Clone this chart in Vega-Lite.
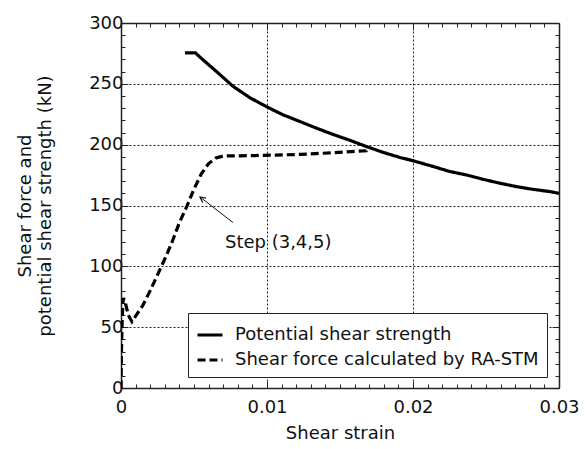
{
  "$schema": "https://vega.github.io/schema/vega-lite/v6.json",
  "width": 438,
  "height": 365,
  "autosize": "none",
  "padding": {"left": 121, "top": 23, "right": 26, "bottom": 61},
  "background": "white",
  "config": {"font": "DejaVu Sans", "view": {"stroke": null}},
  "datasets": {
    "curves": [
      {"strain": 0.00438, "force": 275.5, "series": "Potential shear strength"},
      {"strain": 0.0051, "force": 275.5, "series": "Potential shear strength"},
      {"strain": 0.0054, "force": 272, "series": "Potential shear strength"},
      {"strain": 0.00655, "force": 260, "series": "Potential shear strength"},
      {"strain": 0.00767, "force": 248, "series": "Potential shear strength"},
      {"strain": 0.00884, "force": 238.5, "series": "Potential shear strength"},
      {"strain": 0.01, "force": 231, "series": "Potential shear strength"},
      {"strain": 0.0111, "force": 224.5, "series": "Potential shear strength"},
      {"strain": 0.01226, "force": 219, "series": "Potential shear strength"},
      {"strain": 0.0134, "force": 213.5, "series": "Potential shear strength"},
      {"strain": 0.0145, "force": 208.5, "series": "Potential shear strength"},
      {"strain": 0.0157, "force": 203.5, "series": "Potential shear strength"},
      {"strain": 0.0168, "force": 198.5, "series": "Potential shear strength"},
      {"strain": 0.018, "force": 193.5, "series": "Potential shear strength"},
      {"strain": 0.0191, "force": 189.5, "series": "Potential shear strength"},
      {"strain": 0.02, "force": 186.8, "series": "Potential shear strength"},
      {"strain": 0.0214, "force": 182, "series": "Potential shear strength"},
      {"strain": 0.0225, "force": 178, "series": "Potential shear strength"},
      {"strain": 0.0237, "force": 175, "series": "Potential shear strength"},
      {"strain": 0.0248, "force": 171.5, "series": "Potential shear strength"},
      {"strain": 0.026, "force": 168.2, "series": "Potential shear strength"},
      {"strain": 0.0271, "force": 165.5, "series": "Potential shear strength"},
      {"strain": 0.0282, "force": 163.3, "series": "Potential shear strength"},
      {"strain": 0.0294, "force": 161.4, "series": "Potential shear strength"},
      {"strain": 0.03, "force": 160, "series": "Potential shear strength"},
      {"strain": 0, "force": 0, "series": "Shear force calculated by RA-STM"},
      {"strain": 0.00003, "force": 30, "series": "Shear force calculated by RA-STM"},
      {"strain": 0.00008, "force": 55, "series": "Shear force calculated by RA-STM"},
      {"strain": 0.00013, "force": 70, "series": "Shear force calculated by RA-STM"},
      {"strain": 0.00018, "force": 74, "series": "Shear force calculated by RA-STM"},
      {"strain": 0.0003, "force": 70, "series": "Shear force calculated by RA-STM"},
      {"strain": 0.0005, "force": 60, "series": "Shear force calculated by RA-STM"},
      {"strain": 0.00075, "force": 54.5, "series": "Shear force calculated by RA-STM"},
      {"strain": 0.001, "force": 59, "series": "Shear force calculated by RA-STM"},
      {"strain": 0.0015, "force": 68, "series": "Shear force calculated by RA-STM"},
      {"strain": 0.002, "force": 80, "series": "Shear force calculated by RA-STM"},
      {"strain": 0.0025, "force": 93, "series": "Shear force calculated by RA-STM"},
      {"strain": 0.003, "force": 106, "series": "Shear force calculated by RA-STM"},
      {"strain": 0.0035, "force": 120, "series": "Shear force calculated by RA-STM"},
      {"strain": 0.004, "force": 136, "series": "Shear force calculated by RA-STM"},
      {"strain": 0.0045, "force": 149, "series": "Shear force calculated by RA-STM"},
      {"strain": 0.005, "force": 163.5, "series": "Shear force calculated by RA-STM"},
      {"strain": 0.0055, "force": 176, "series": "Shear force calculated by RA-STM"},
      {"strain": 0.006, "force": 184.5, "series": "Shear force calculated by RA-STM"},
      {"strain": 0.0065, "force": 189, "series": "Shear force calculated by RA-STM"},
      {"strain": 0.007, "force": 190.7, "series": "Shear force calculated by RA-STM"},
      {"strain": 0.009, "force": 191, "series": "Shear force calculated by RA-STM"},
      {"strain": 0.0123, "force": 192, "series": "Shear force calculated by RA-STM"},
      {"strain": 0.0145, "force": 193.4, "series": "Shear force calculated by RA-STM"},
      {"strain": 0.0168, "force": 195, "series": "Shear force calculated by RA-STM"},
      {"strain": 0.0169, "force": 198, "series": "Shear force calculated by RA-STM"}
    ],
    "arrow": [
      {"x": 0.00767, "y": 136, "x2": 0.00541, "y2": 157}
    ],
    "note": [
      {"x": 0.00712, "y": 119, "text": "Step (3,4,5)"}
    ]
  },
  "resolve": {"axis": {"x": "independent", "y": "independent"}},
  "layer": [
    {
      "data": {"name": "curves"},
      "mark": {"type": "line", "strokeWidth": 3.2, "clip": true},
      "encoding": {
        "x": {
          "field": "strain", "type": "quantitative",
          "scale": {"domain": [0, 0.03], "nice": false, "zero": false},
          "axis": {
            "orient": "bottom",
            "values": [0, 0.001, 0.002, 0.003, 0.004, 0.005, 0.006, 0.007, 0.008, 0.009, 0.01, 0.011, 0.012, 0.013, 0.014, 0.015, 0.016, 0.017, 0.018, 0.019, 0.02, 0.021, 0.022, 0.023, 0.024, 0.025, 0.026, 0.027, 0.028, 0.029, 0.03],
            "format": "~g",
            "labelExpr": "abs(datum.value*100 - round(datum.value*100)) < 0.000001 ? datum.label : ''",
            "tickSize": {"condition": {"test": "abs(datum.value*100 - round(datum.value*100)) < 0.000001", "value": -7}, "value": -4},
            "grid": true,
            "gridOpacity": {"condition": {"test": "abs(datum.value*100 - round(datum.value*100)) < 0.000001 && datum.value > 0.001 && datum.value < 0.029", "value": 1}, "value": 0},
            "gridDash": [2, 2],
            "gridColor": "#222",
            "gridWidth": 1,
            "domainColor": "#222",
            "domainWidth": 1.5,
            "tickColor": "#222",
            "tickWidth": 1,
            "labelFontSize": 18,
            "labelColor": "#111",
            "labelPadding": 17,
            "labelFlush": false,
            "labelOverlap": false,
            "title": "Shear strain",
            "titleFontSize": 18,
            "titleFontWeight": "normal",
            "titleColor": "#111",
            "titlePadding": 5
          }
        },
        "y": {
          "field": "force", "type": "quantitative",
          "scale": {"domain": [0, 300], "nice": false, "zero": false},
          "axis": {
            "orient": "left",
            "values": [0, 10, 20, 30, 40, 50, 60, 70, 80, 90, 100, 110, 120, 130, 140, 150, 160, 170, 180, 190, 200, 210, 220, 230, 240, 250, 260, 270, 280, 290, 300],
            "labelExpr": "datum.value % 50 === 0 ? datum.label : ''",
            "tickSize": {"condition": {"test": "datum.value % 50 === 0", "value": -7}, "value": -4},
            "grid": true,
            "gridOpacity": {"condition": {"test": "datum.value % 50 === 0 && datum.value > 0 && datum.value < 300", "value": 1}, "value": 0},
            "gridDash": [2, 2],
            "gridColor": "#222",
            "gridWidth": 1,
            "domainColor": "#222",
            "domainWidth": 1.5,
            "tickColor": "#222",
            "tickWidth": 1,
            "labelFontSize": 18,
            "labelColor": "#111",
            "labelPadding": 5,
            "labelFlush": false,
            "labelOverlap": false,
            "title": ["Shear force and", "potential shear strength (kN)"],
            "titleFontSize": 18,
            "titleFontWeight": "normal",
            "titleColor": "#111",
            "titleLineHeight": 20,
            "titlePadding": 34
          }
        },
        "color": {
          "field": "series", "type": "nominal",
          "scale": {"domain": ["Potential shear strength", "Shear force calculated by RA-STM"], "range": ["black", "black"]},
          "legend": {
            "title": null,
            "orient": "none",
            "legendX": 67,
            "legendY": 290,
            "fillColor": "white",
            "strokeColor": "#222",
            "padding": 8,
            "symbolType": "stroke",
            "symbolSize": 625,
            "symbolStrokeWidth": 3,
            "labelFontSize": 18,
            "labelColor": "#111",
            "labelOffset": 11,
            "rowPadding": 2,
            "labelLimit": 400
          }
        },
        "strokeDash": {
          "field": "series", "type": "nominal",
          "scale": {"domain": ["Potential shear strength", "Shear force calculated by RA-STM"], "range": [[1, 0], [8, 4]]},
          "legend": {
            "title": null,
            "orient": "none",
            "legendX": 67,
            "legendY": 290,
            "fillColor": "white",
            "strokeColor": "#222",
            "padding": 8,
            "symbolType": "stroke",
            "symbolSize": 625,
            "symbolStrokeWidth": 3,
            "labelFontSize": 18,
            "labelColor": "#111",
            "labelOffset": 11,
            "rowPadding": 2,
            "labelLimit": 400
          }
        }
      }
    },
    {
      "data": {"name": "curves"},
      "mark": {"type": "line", "opacity": 0, "strokeWidth": 0},
      "encoding": {
        "x": {
          "field": "strain", "type": "quantitative",
          "axis": {
            "orient": "top",
            "values": [0, 0.001, 0.002, 0.003, 0.004, 0.005, 0.006, 0.007, 0.008, 0.009, 0.01, 0.011, 0.012, 0.013, 0.014, 0.015, 0.016, 0.017, 0.018, 0.019, 0.02, 0.021, 0.022, 0.023, 0.024, 0.025, 0.026, 0.027, 0.028, 0.029, 0.03],
            "labels": false,
            "grid": false,
            "title": null,
            "tickSize": {"condition": {"test": "abs(datum.value*100 - round(datum.value*100)) < 0.000001", "value": -7}, "value": -4},
            "domainColor": "#222",
            "domainWidth": 1.5,
            "tickColor": "#222",
            "tickWidth": 1
          }
        },
        "y": {
          "field": "force", "type": "quantitative",
          "axis": {
            "orient": "right",
            "values": [0, 10, 20, 30, 40, 50, 60, 70, 80, 90, 100, 110, 120, 130, 140, 150, 160, 170, 180, 190, 200, 210, 220, 230, 240, 250, 260, 270, 280, 290, 300],
            "labels": false,
            "grid": false,
            "title": null,
            "tickSize": {"condition": {"test": "datum.value % 50 === 0", "value": -7}, "value": -4},
            "domainColor": "#222",
            "domainWidth": 1.5,
            "tickColor": "#222",
            "tickWidth": 1
          }
        }
      }
    },
    {
      "data": {"name": "arrow"},
      "mark": {"type": "rule", "strokeWidth": 1, "color": "#111"},
      "encoding": {
        "x": {"field": "x", "type": "quantitative", "axis": null},
        "y": {"field": "y", "type": "quantitative", "axis": null},
        "x2": {"field": "x2"},
        "y2": {"field": "y2"}
      }
    },
    {
      "data": {"name": "arrow"},
      "mark": {"type": "point", "shape": "M-0.5,1L0,0L0.5,1", "filled": false, "size": 120, "strokeWidth": 1.2, "color": "#111", "angle": 308, "opacity": 1},
      "encoding": {
        "x": {"field": "x2", "type": "quantitative", "axis": null},
        "y": {"field": "y2", "type": "quantitative", "axis": null}
      }
    },
    {
      "data": {"name": "note"},
      "mark": {"type": "text", "align": "left", "baseline": "middle", "fontSize": 18, "color": "#111"},
      "encoding": {
        "x": {"field": "x", "type": "quantitative", "axis": null},
        "y": {"field": "y", "type": "quantitative", "axis": null},
        "text": {"field": "text"}
      }
    }
  ]
}
